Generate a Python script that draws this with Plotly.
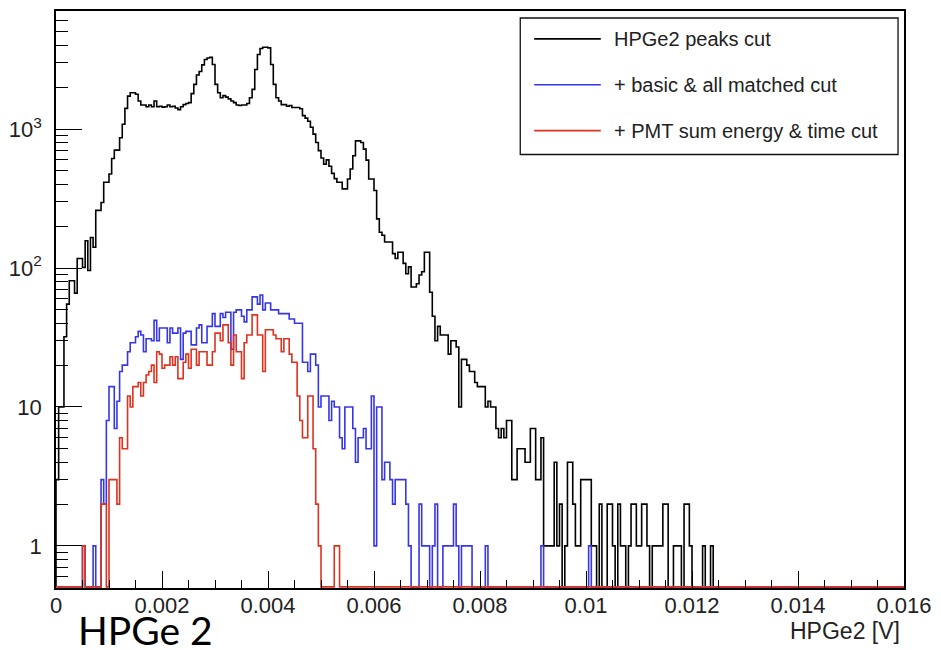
import numpy as np
import plotly.graph_objects as go

# ---------------- data ----------------
x_min, x_max = 0.0, 0.016
bin_width = 0.00005          # 320 bins over 0 .. 0.016 V

black_counts = [
    3, 10, 10, 32, 55, 81, 81, 66, 117, 117,
    101, 157, 96, 166, 141, 260, 260, 296, 414, 414,
    475, 615, 706, 706, 866, 1084, 1410, 1727, 1826, 1826,
    1780, 1592, 1490, 1490, 1450, 1490, 1450, 1592, 1450, 1460,
    1440, 1450, 1490, 1450, 1460, 1420, 1380, 1450, 1500, 1530,
    1550, 1800, 2100, 2450, 2600, 2900, 3170, 3250, 3290, 2918,
    2100, 1828, 1683, 1740, 1700, 1650, 1592, 1550, 1490, 1480,
    1490, 1490, 1530, 1680, 1932, 2687, 3443, 3800, 3880, 3880,
    3840, 2918, 2100, 1683, 1592, 1500, 1500, 1460, 1480, 1430,
    1430, 1430, 1400, 1250, 1200, 1140, 1030, 920, 800, 700,
    620, 560, 600, 540, 480, 440, 414, 414, 371, 371,
    437, 516, 643, 823, 823, 800, 718, 598, 437, 437,
    361, 226, 181, 172, 154, 154, 154, 127, 117, 130,
    130, 108, 91, 102, 73, 73, 77, 89, 94, 130,
    130, 67, 45, 30, 38, 33, 33, 33, 24, 30,
    30, 27, 10, 22, 22, 20, 18, 18, 15, 14,
    14, 14, 10, 11, 10, 10, 7, 6, 7, 6,
    8, 8, 3, 3, 5, 5, 5, 4, 4, 7,
    7, 3, 3, 6, 1, 1, 1, 1, 4, 1,
    2, 0, 1, 4, 4, 2, 1, 1, 3, 3,
    3, 3, 1, 1, 0, 2, 0, 0, 2, 2,
    1, 0, 2, 1, 1, 0, 1, 2, 2, 1,
    1, 2, 2, 1, 0, 1, 1, 1, 1, 2,
    2, 0, 0, 1, 1, 1, 0, 2, 2, 1,
    0, 0, 0, 0, 1, 0, 0, 1, 0, 0,
] + [0] * 70

blue_counts = [
    0, 0, 0, 0, 0, 0, 0, 0, 0, 0,
    1, 0, 0, 0, 1, 0, 0, 3, 2, 8,
    14, 14, 7, 11, 18, 20, 20, 25, 29, 29,
    32, 35, 33, 25, 31, 31, 30, 42, 30, 37,
    37, 37, 29, 37, 34, 34, 37, 22, 34, 35,
    35, 28, 28, 37, 39, 29, 29, 38, 38, 47,
    38, 38, 47, 44, 48, 48, 26, 48, 50, 50,
    45, 41, 50, 50, 62, 62, 55, 64, 50, 56,
    56, 50, 50, 50, 47, 47, 47, 47, 43, 43,
    40, 40, 40, 21, 21, 18, 24, 24, 20, 10,
    12, 12, 12, 8, 11, 10, 10, 6, 5, 10,
    10, 10, 7, 4, 6, 6, 7, 5, 5, 12,
    1, 10, 10, 3, 4, 4, 3, 2, 3, 3,
    3, 3, 2, 1, 0, 0, 0, 2, 1, 1,
    1, 0, 1, 2, 0, 0, 1, 1, 1, 1,
    2, 1, 0, 1, 1, 1, 1, 0, 0, 0,
    0, 0, 1, 0, 0, 0, 0, 0, 0, 0,
    0, 0, 0, 0, 0, 0, 0, 0, 0, 0,
    0, 0, 0, 1, 0, 0, 0, 0, 0, 0,
    0, 0, 0, 0, 0, 0, 0, 0, 0, 0,
    0, 1, 0, 0, 0, 0, 0, 0, 0, 0,
] + [0] * 110

red_counts = [
    0, 0, 0, 0, 0, 0, 0, 0, 0, 0,
    1, 0, 0, 0, 0, 0, 0, 2, 2, 0,
    3, 3, 3, 2, 6, 5, 5, 12, 10, 14,
    14, 15, 12, 15, 17, 18, 20, 15, 25, 24,
    19, 20, 20, 23, 20, 23, 16, 16, 21, 24,
    19, 26, 26, 20, 25, 25, 25, 20, 20, 25,
    34, 34, 30, 39, 39, 29, 20, 33, 25, 25,
    16, 29, 33, 33, 46, 46, 33, 33, 18, 36,
    36, 36, 33, 31, 31, 25, 31, 31, 24, 21,
    21, 12, 8, 6, 6, 12, 12, 5, 2, 1,
    0, 0, 0, 0, 0, 1, 1, 0, 0, 0,
] + [0] * 210

series_names = ["HPGe2 peaks cut", "+ basic & all matched cut", "+ PMT sum energy & time cut"]
series_counts = [black_counts, blue_counts, red_counts]
series_colors = ["#000000", "#3636e4", "#de311e"]

x_tick_vals = [0, 0.002, 0.004, 0.006, 0.008, 0.010, 0.012, 0.014, 0.016]
x_tick_text = ["0", "0.002", "0.004", "0.006", "0.008", "0.01", "0.012", "0.014", "0.016"]
y_tick_vals = [1, 10, 100, 1000]
y_tick_text = ["1", "10", "10<sup>2</sup>", "10<sup>3</sup>"]
y_minor_vals = [0.6, 0.7, 0.8, 0.9] + [m * d for d in (1, 10, 100) for m in range(2, 10)] + [2000, 3000, 4000, 5000, 6000, 7000]

x_title = "HPGe2 [V]"
panel_label = "HPGe 2"

y_range = [-0.303, 3.85]
y_floor = 0.507   # where empty bins are drawn (bottom of the frame)

# ---------------- figure ----------------
def step_xy(counts):
    n = len(counts)
    edges = x_min + bin_width * np.arange(n + 1)
    vals = [c if c > 0 else y_floor for c in counts]
    xs = [edges[0]] + list(edges[:n]) + [edges[n], edges[n]]
    ys = [y_floor] + vals + [vals[-1], y_floor]
    return xs, ys

fig = go.Figure()
for name, counts, color in zip(series_names, series_counts, series_colors):
    xs, ys = step_xy(counts)
    fig.add_trace(go.Scatter(x=xs, y=ys, mode="lines", name=name,
                             line=dict(color=color, width=1.6, shape="hv"),
                             showlegend=False, hoverinfo="skip"))

tick_font = dict(family="Liberation Sans, Arial, sans-serif", size=22, color="#222")

fig.update_layout(
    width=941, height=650, autosize=False,
    margin=dict(l=56, r=32, t=9, b=62),
    paper_bgcolor="white", plot_bgcolor="white",
    font=tick_font,
    xaxis=dict(range=[x_min, x_max], tickmode="array", tickvals=x_tick_vals, ticktext=x_tick_text,
               ticks="inside", ticklen=17, tickwidth=1, tickcolor="black",
               minor=dict(ticks="inside", ticklen=8, tickwidth=1, tickcolor="black", dtick=0.0005, showgrid=False),
               showgrid=False, zeroline=False, showline=True, linecolor="black", linewidth=1.5,
               mirror=True, tickfont=tick_font, ticklabelstandoff=-3),
    yaxis=dict(type="log", range=y_range, tickmode="array", tickvals=y_tick_vals, ticktext=y_tick_text,
               ticks="inside", ticklen=26, tickwidth=1, tickcolor="black",
               minor=dict(ticks="inside", ticklen=12, tickwidth=1, tickcolor="black",
                          tickmode="array", tickvals=y_minor_vals, showgrid=False),
               showgrid=False, zeroline=False, showline=True, linecolor="black", linewidth=1.5,
               mirror=True, tickfont=tick_font, ticklabelstandoff=8),
)

# custom legend box (pixel layout converted to paper coordinates)
def px_to_paper(px, py):
    return (px - 56) / 853.0, 1 - (py - 9) / 579.0

bx0, by0 = px_to_paper(523, 153)
bx1, by1 = px_to_paper(903, 16)
fig.add_shape(type="rect", xref="paper", yref="paper", x0=bx0, y0=by0, x1=bx1, y1=by1,
              line=dict(color="#111", width=1.3), fillcolor="white", layer="above")
for k, (name, color) in enumerate(zip(series_names, series_colors)):
    lx0, ly = px_to_paper(537, 37 + 46 * k)
    lx1, _ = px_to_paper(604, 37 + 46 * k)
    fig.add_shape(type="line", xref="paper", yref="paper", x0=lx0, x1=lx1, y0=ly, y1=ly,
                  line=dict(color=color, width=1.6), layer="above")
    tx, _ = px_to_paper(615, 0)
    fig.add_annotation(xref="paper", yref="paper", x=tx, y=ly, text=name, showarrow=False,
                       xanchor="left", yanchor="middle",
                       font=dict(family="Liberation Sans, Arial, sans-serif", size=20, color="#222"))

ax, ay = px_to_paper(907, 631)
fig.add_annotation(xref="paper", yref="paper", x=ax, y=ay, text=x_title, showarrow=False,
                   xanchor="right", yanchor="middle",
                   font=dict(family="Liberation Sans, Arial, sans-serif", size=23, color="#222"))
hx, hy = px_to_paper(76, 630)
fig.add_annotation(xref="paper", yref="paper", x=hx, y=hy, text=panel_label, showarrow=False,
                   xanchor="left", yanchor="middle",
                   font=dict(family="Lato, Open Sans, sans-serif", size=39, color="black"))

fig.write_html("out.html")
